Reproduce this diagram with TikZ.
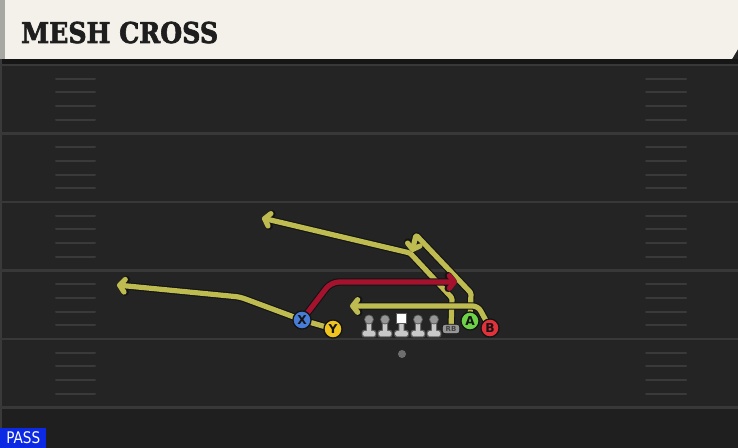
\documentclass[tikz,border=0pt]{standalone}
\usepackage{fontspec}
\usetikzlibrary{arrows.meta}
\newfontfamily\titlefont{DejaVu Serif}[BoldFeatures={FakeBold=2.4}]
\newfontfamily\labelfont{DejaVu Sans}
\definecolor{fieldc}{RGB}{36,36,36}
\definecolor{fieldlow}{RGB}{31,31,31}
\definecolor{barc}{RGB}{22,22,22}
\definecolor{edgec}{RGB}{58,58,58}
\definecolor{yardc}{RGB}{56,56,56}
\definecolor{hashc}{RGB}{58,58,58}
\definecolor{headc}{RGB}{244,241,234}
\definecolor{headstrip}{RGB}{168,168,162}
\definecolor{titlec}{RGB}{30,30,30}
\definecolor{routey}{RGB}{190,188,80}
\definecolor{router}{RGB}{165,18,45}
\definecolor{xblue}{RGB}{72,125,215}
\definecolor{yyellow}{RGB}{240,196,30}
\definecolor{agreen}{RGB}{110,210,70}
\definecolor{bred}{RGB}{225,50,60}
\definecolor{outc}{RGB}{20,20,20}
\definecolor{linec}{RGB}{200,200,200}
\definecolor{headg}{RGB}{150,150,150}
\definecolor{rbc}{RGB}{150,150,150}
\definecolor{ballc}{RGB}{110,110,110}
\definecolor{passblue}{RGB}{12,42,228}
\tikzset{
  routebase/.style={line width=3.9pt, line join=round, line cap=round, rounded corners=1pt,
    -{Straight Barb[length=3.8pt,width=9.5pt,line cap=round,line join=round]}},
  yroute/.style={routebase, draw=routey},
  rroute/.style={routebase, draw=router},
  outl/.style={draw=outc, line width=5.6pt},
  player/.style={circle, draw=outc, line width=1pt, minimum size=13.6pt, inner sep=0pt,
    font=\labelfont\bfseries\fontsize{9.2}{9}\selectfont, text=outc},
  rbbox/.style={rounded corners=2pt, fill=rbc, draw=outc, line width=0.5pt, minimum width=13pt,
    minimum height=7pt, inner sep=0pt, font=\labelfont\bfseries\fontsize{5.2}{5.5}\selectfont, text=outc!80},
}
\newcommand\myroute[2]{\draw[#1,outl] #2; \draw[#1] #2;}
\newcommand\lineman[1]{%
  \fill[outc!70, rounded corners=1pt] ({#1-3.2},320) rectangle ({#1+3.2},334.5);
  \fill[outc!70, rounded corners=1.6pt] ({#1-7.3},330) rectangle ({#1+7.3},337.3);
  \fill[linec, rounded corners=0.8pt] ({#1-2.2},321) rectangle ({#1+2.2},333);
  \fill[linec, rounded corners=1.2pt] ({#1-6.3},331) rectangle ({#1+6.3},336.3);}
\begin{document}
\begin{tikzpicture}[x=0.75pt,y=-0.75pt]
\useasboundingbox (0,0) rectangle (738,448);
% field
\fill[fieldc] (0,48) rectangle (738,448);
\fill[fieldlow] (0,408) rectangle (738,448);
\fill[barc] (0,59) rectangle (738,64);
\fill[edgec] (0,59) rectangle (2.2,448);
\foreach \i in {0,...,5} {
  \draw[yardc, line width=2pt] (0,{65+68.5*\i}) -- (738,{65+68.5*\i});
}
\foreach \i in {0,...,4} {
  \foreach \j in {1,...,4} {
    \draw[hashc, line width=1.5pt, line cap=round] (56,{65+68.5*\i+13.7*\j}) -- (95,{65+68.5*\i+13.7*\j});
    \draw[hashc, line width=1.5pt, line cap=round] (646,{65+68.5*\i+13.7*\j}) -- (686,{65+68.5*\i+13.7*\j});
  }
}
% header
\fill[headc] (0,0) -- (738,0) -- (738,49) -- (732,59) -- (0,59) -- cycle;
\fill[headstrip] (0,0) rectangle (5,59);
\node[anchor=base west, inner sep=0pt, text=titlec, font=\titlefont\bfseries\fontsize{21.5}{22}\selectfont, xscale=0.88] (title) at (21,43) {MESH CROSS};
% player positions
\coordinate (pX) at (302,320);
\coordinate (pY) at (333,329);
\coordinate (pA) at (470,321);
\coordinate (pB) at (490,328);
\coordinate (pRB) at (451,329);
% route points
\coordinate (y1) at (240,297);
\coordinate (yEnd) at (117,285);
\coordinate (x1) at (331,282);
\coordinate (xEnd) at (457,282);
\coordinate (a1) at (471,293);
\coordinate (a2) at (416,235);
\coordinate (aEnd) at (412,252);
\coordinate (b1) at (478,306);
\coordinate (bEnd) at (350,306);
\coordinate (r1) at (452,298);
\coordinate (r2) at (410,253);
\coordinate (rEnd) at (262,218);
% routes
\myroute{yroute}{(pRB) -- (r1) -- (r2) -- (rEnd)}
\myroute{yroute}{(pA) -- (a1) -- (a2) -- (aEnd)}
\myroute{yroute, rounded corners=4pt}{(pB) -- (b1) -- (bEnd)}
\myroute{yroute, rounded corners=3pt}{(pY) -- (pX) -- (y1) -- (yEnd)}
\myroute{rroute, rounded corners=6pt}{(pX) -- (x1) -- (xEnd)}
% linemen
\lineman{369}
\lineman{385}
\lineman{401.5}
\lineman{418}
\lineman{434}
\foreach \x in {369,385,418,434} {
  \fill[outc!70] (\x,319.5) circle (3.7pt);
  \fill[headg] (\x,319.5) circle (3pt);
}
\fill[outc!70] (396,313) rectangle (407,324);
\fill[white] (397,314) rectangle (406,323);
\node[rbbox] (RB) at (pRB) {RB};
\fill[ballc] (402,354) circle (3pt);
% players
\node[player, fill=xblue] (X) at (pX) {X};
\node[player, fill=yyellow] (Y) at (pY) {Y};
\node[player, fill=agreen] (A) at (pA) {A};
\node[player, fill=bred] (B) at (pB) {B};
% pass label
\node[fill=passblue, anchor=south west, minimum width=34.5pt, minimum height=15pt, inner sep=0pt, text=white,
  font=\labelfont\fontsize{12}{12}\selectfont] (pass) at (0,448) {\scalebox{0.85}[1]{PASS}};
\end{tikzpicture}
\end{document}
